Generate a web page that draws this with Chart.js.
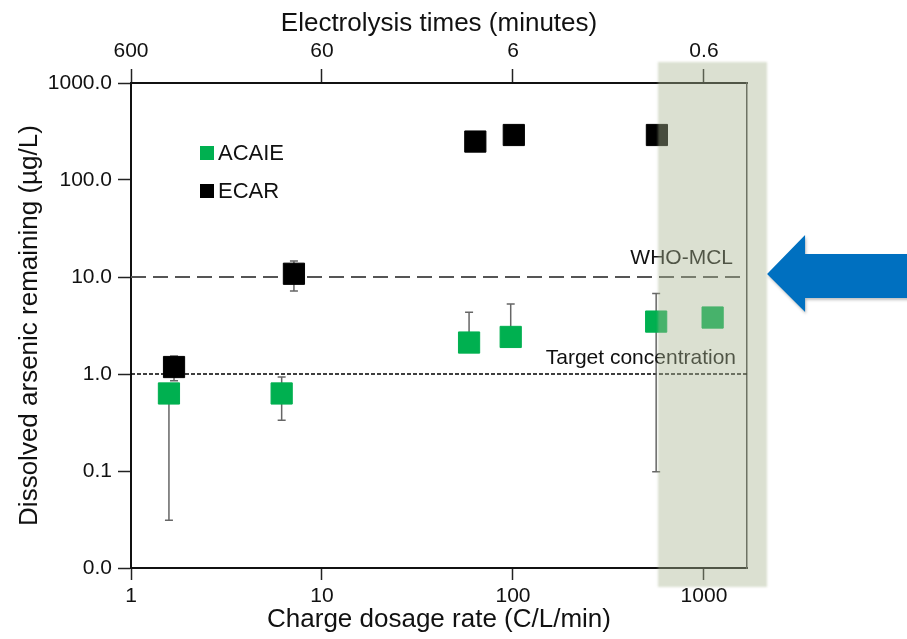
<!DOCTYPE html>
<html>
<head>
<meta charset="utf-8">
<script src="https://cdn.jsdelivr.net/npm/chart.js@4/dist/chart.umd.min.js"></script>
<style>
  html, body { margin: 0; padding: 0; background: #fff; }
  #wrap { width: 907px; height: 639px; }
</style>
</head>
<body>
<div id="wrap"><canvas id="arsenicChart" width="907" height="639"></canvas></div>
<script>
// axis ticks
const dosageTicks = [1, 10, 100, 1000];
const dosageLabels = ['1', '10', '100', '1000'];
const timeLabels = ['600', '60', '6', '0.6'];
const arsenicTicks = [0.01, 0.1, 1, 10, 100, 1000];
const arsenicLabels = ['0.0', '0.1', '1.0', '10.0', '100.0', '1000.0'];

// ACAIE series (charge dosage rate vs dissolved arsenic)
const acaieDosage = [1.58, 6.15, 58.9, 97.3, 562, 1110];
const acaieArsenic = [0.63, 0.63, 2.11, 2.41, 3.47, 3.82];
const acaieLow = [0.031, 0.333, null, null, 0.098, null];
const acaieHigh = [0.75, 0.93, 4.33, 5.27, 6.74, null];

// ECAR series
const ecarDosage = [1.68, 7.13, 63.5, 101, 567];
const ecarArsenic = [1.18, 10.8, 249, 291, 291];
const ecarLow = [0.85, 7.17, null, null, null];
const ecarHigh = [1.53, 14.6, null, null, null];

const whoLimit = 10;
const targetLimit = 1;
const bandRange = [574, 2140];

const FONT = "'Liberation Sans', Arial, sans-serif";

const toPoints = (xs, ys) => xs.map((v, i) => ({ x: v, y: ys[i] }));

const overlay = {
    id: 'overlay',
    beforeDatasetsDraw(chart) {
        const { ctx, chartArea: a, scales: { x, y } } = chart;
        ctx.save();
        const refLine = (v, color, w, dash) => {
            const py = y.getPixelForValue(v);
            ctx.beginPath();
            ctx.setLineDash(dash);
            ctx.strokeStyle = color;
            ctx.lineWidth = w;
            ctx.moveTo(a.left, py);
            ctx.lineTo(a.right, py);
            ctx.stroke();
        };
        refLine(whoLimit, '#555', 2, [15, 7]);
        refLine(targetLimit, '#000', 1.5, [4, 2]);
        ctx.setLineDash([]);

        // error bars
        ctx.strokeStyle = '#666';
        ctx.lineWidth = 1.5;
        chart.data.datasets.forEach(ds => {
            ds.data.forEach((p, i) => {
                const lo = ds.errLow[i], hi = ds.errHigh[i];
                if (lo == null && hi == null) return;
                const px = x.getPixelForValue(p.x);
                const top = y.getPixelForValue(hi != null ? hi : p.y);
                const bot = y.getPixelForValue(lo != null ? lo : p.y);
                ctx.beginPath();
                ctx.moveTo(px, top);
                ctx.lineTo(px, bot);
                if (hi != null) { ctx.moveTo(px - 4, top); ctx.lineTo(px + 4, top); }
                if (lo != null) { ctx.moveTo(px - 4, bot); ctx.lineTo(px + 4, bot); }
                ctx.stroke();
            });
        });
        ctx.restore();
    },
    afterDatasetsDraw(chart) {
        const { ctx, chartArea: a, scales: { x, y } } = chart;
        ctx.save();

        // line labels
        ctx.fillStyle = '#111';
        ctx.font = '21px ' + FONT;
        ctx.textAlign = 'right';
        ctx.textBaseline = 'alphabetic';
        ctx.fillText('WHO-MCL', a.right - 14, y.getPixelForValue(whoLimit) - 13);
        ctx.fillText('Target concentration', a.right - 11, y.getPixelForValue(targetLimit) - 10);

        // legend
        ctx.font = '22px ' + FONT;
        ctx.textAlign = 'left';
        ctx.textBaseline = 'middle';
        chart.data.datasets.forEach((ds, i) => {
            const ly = a.top + 70 + i * 38;
            ctx.fillStyle = ds.backgroundColor;
            ctx.fillRect(a.left + 69, ly - 7, 14, 14);
            ctx.fillStyle = '#111';
            ctx.fillText(ds.label, a.left + 87, ly + 1);
        });

        // shaded band
        const bx0 = x.getPixelForValue(bandRange[0]);
        const bx1 = x.getPixelForValue(bandRange[1]);
        ctx.filter = 'blur(1px)';
        ctx.fillStyle = 'rgba(170, 180, 145, 0.42)';
        ctx.fillRect(bx0, a.top - 21, bx1 - bx0, a.bottom - a.top + 40);
        ctx.filter = 'none';

        // arrow pointing at the WHO limit
        const ay = y.getPixelForValue(whoLimit) - 3;
        const tipX = bx1;
        ctx.shadowColor = 'rgba(0,0,0,0.25)';
        ctx.shadowBlur = 3;
        ctx.shadowOffsetX = 1;
        ctx.shadowOffsetY = 2;
        ctx.fillStyle = '#0070c0';
        ctx.beginPath();
        ctx.moveTo(tipX, ay);
        ctx.lineTo(tipX + 38, ay - 39);
        ctx.lineTo(tipX + 38, ay - 20);
        ctx.lineTo(chart.width + 5, ay - 20);
        ctx.lineTo(chart.width + 5, ay + 24);
        ctx.lineTo(tipX + 38, ay + 24);
        ctx.lineTo(tipX + 38, ay + 38);
        ctx.closePath();
        ctx.fill();
        ctx.restore();
    }
};

const setTicks = values => scale => { scale.ticks = values.map(v => ({ value: v })); };
const tickFont = { family: FONT, size: 21 };
const titleFont = { family: FONT, size: 26 };

new Chart(document.getElementById('arsenicChart').getContext('2d'), {
    type: 'scatter',
    data: {
        datasets: [{
            label: 'ACAIE',
            data: toPoints(acaieDosage, acaieArsenic),
            errLow: acaieLow,
            errHigh: acaieHigh,
            backgroundColor: '#00b050',
            borderColor: '#00b050',
            pointStyle: 'rect',
            pointRadius: 15,
            borderWidth: 1
        }, {
            label: 'ECAR',
            data: toPoints(ecarDosage, ecarArsenic),
            errLow: ecarLow,
            errHigh: ecarHigh,
            backgroundColor: '#000',
            borderColor: '#000',
            pointStyle: 'rect',
            pointRadius: 15,
            borderWidth: 1
        }]
    },
    options: {
        responsive: false,
        animation: false,
        layout: { padding: { left: 0, right: 160, top: 0, bottom: 0 } },
        plugins: {
            legend: { display: false },
            tooltip: { enabled: false }
        },
        scales: {
            x: {
                type: 'logarithmic',
                position: 'bottom',
                min: 1,
                max: 1680,
                afterBuildTicks: setTicks(dosageTicks),
                afterFit: s => { s.height = 71; },
                ticks: {
                    autoSkip: false, maxRotation: 0, padding: 4,
                    color: '#111', font: tickFont,
                    callback: (v, i) => dosageLabels[i]
                },
                grid: { drawOnChartArea: false, tickLength: 12, tickWidth: 1.5, tickColor: '#222' },
                border: { color: '#111', width: 2 },
                title: {
                    display: true, text: 'Charge dosage rate (C/L/min)',
                    color: '#111', font: titleFont, padding: { top: 0, bottom: 4 }
                }
            },
            x2: {
                type: 'logarithmic',
                position: 'top',
                min: 1,
                max: 1680,
                afterBuildTicks: setTicks(dosageTicks),
                afterFit: s => { s.height = 83; },
                ticks: {
                    autoSkip: false, maxRotation: 0, padding: 5,
                    color: '#111', font: tickFont,
                    callback: (v, i) => timeLabels[i]
                },
                grid: { drawOnChartArea: false, tickLength: 14, tickWidth: 1.5, tickColor: '#222' },
                border: { color: '#111', width: 2 },
                title: {
                    display: true, text: 'Electrolysis times (minutes)',
                    color: '#111', font: titleFont, padding: { top: 8, bottom: 0 }
                }
            },
            y: {
                type: 'logarithmic',
                position: 'left',
                min: 0.01,
                max: 1000,
                afterBuildTicks: setTicks(arsenicTicks),
                afterFit: s => { s.width = 131; },
                ticks: {
                    autoSkip: false, padding: 6,
                    color: '#111', font: tickFont,
                    callback: (v, i) => arsenicLabels[i]
                },
                grid: { drawOnChartArea: false, tickLength: 13, tickWidth: 1.5, tickColor: '#222' },
                border: { color: '#111', width: 2 },
                title: {
                    display: true, text: 'Dissolved arsenic remaining (µg/L)',
                    color: '#111', font: titleFont, padding: { top: 14, bottom: 0 }
                }
            },
            y2: {
                type: 'logarithmic',
                position: 'right',
                min: 0.01,
                max: 1000,
                afterFit: s => { s.width = 0; },
                ticks: { display: false },
                grid: { display: false },
                border: { display: true, color: '#444', width: 1.5 }
            }
        }
    },
    plugins: [overlay]
});
</script>
</body>
</html>
